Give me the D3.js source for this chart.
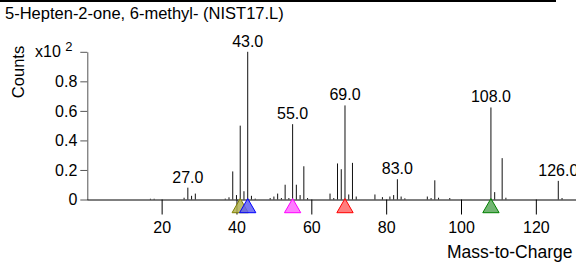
<!DOCTYPE html>
<html>
<head>
<meta charset="utf-8">
<script src="https://cdn.jsdelivr.net/npm/d3@7"></script>
<style>
  body { margin: 0; background: #fff; }
  svg { display: block; font-family: "Liberation Sans", Arial, sans-serif; }
</style>
</head>
<body>
<div id="view"></div>
<script>
// spectrum data (abundance in units of 10^2 counts)
const massValues = [17, 18, 26, 27, 28, 29, 37, 38, 39, 40, 41, 42, 43, 44, 45, 49, 50, 51, 52, 53, 54, 55, 56, 57, 58, 59,
    65, 66, 67, 68, 69, 70, 71, 72, 77, 79, 81, 82, 83, 84, 85, 91, 92, 93, 94, 97, 108, 109, 111, 112, 126, 127];
const abundance = [0.005, 0.005, 0.012, 0.08, 0.025, 0.04, 0.006, 0.015, 0.19, 0.03, 0.50, 0.056, 1.0, 0.025, 0.006, 0.01, 0.02, 0.04, 0.01, 0.10, 0.01, 0.51, 0.10, 0.03, 0.225, 0.01,
    0.04, 0.01, 0.244, 0.205, 0.637, 0.034, 0.248, 0.02, 0.034, 0.016, 0.02, 0.03, 0.137, 0.02, 0.008, 0.02, 0.01, 0.13, 0.012, 0.01, 0.623, 0.05, 0.28, 0.012, 0.126, 0.01];
const labelledPeaks = [27, 43, 55, 69, 83, 108, 126];
const markerMass = [41, 43, 55, 69, 108];
const markerStroke = ['#808000', '#0000ff', '#ff00ff', '#ff0000', '#008000'];
const markerFill = ['#b0b050', '#6060f0', '#ff66ff', '#ff6666', '#5aa85a'];
const xTicks = [20, 40, 60, 80, 100, 120];
const yTicks = [0, 0.2, 0.4, 0.6, 0.8, 1.0];

const width = 576, height = 263;

const svg = d3.select('#view')
    .append('svg')
        .attr('width', width)
        .attr('height', height);

const x = d3.scaleLinear().domain([0, 131.5]).range([86.8, 86.8 + 3.742 * 131.5]);
const y = d3.scaleLinear().domain([0, 1]).range([199.5, 51.8]);

// title and top rule
svg.append('line')
    .attr('x1', 0).attr('x2', 556)
    .attr('y1', 1).attr('y2', 1)
    .attr('stroke', '#000').attr('stroke-width', 2);
svg.append('text')
    .attr('x', 5).attr('y', 19)
    .attr('font-size', 16.5)
    .text('5-Hepten-2-one, 6-methyl- (NIST17.L)');

// Y axis
const yAxis = svg.append('g')
    .attr('transform', `translate(${x(0) + 0.5},0)`)
    .call(d3.axisLeft(y).tickValues(yTicks).tickSize(7).tickSizeOuter(0)
        .tickFormat(d => d === 1 ? '' : (d === 0 ? '0' : d3.format('.1f')(d))));
yAxis.select('.domain').attr('stroke', '#555');
yAxis.selectAll('.tick line').attr('stroke', '#555');
yAxis.selectAll('.tick text')
    .attr('font-size', 16)
    .attr('font-family', '"Liberation Sans", Arial, sans-serif')
    .attr('fill', '#000')
    .attr('x', -10);

const expLabel = svg.append('text')
    .attr('x', 35).attr('y', y(1) + 5)
    .attr('font-size', 16);
expLabel.append('tspan').text('x10 ');
expLabel.append('tspan').attr('dy', -6).attr('font-size', 13).text('2');

svg.append('text')
    .attr('transform', `translate(24,${72}) rotate(-90)`)
    .attr('text-anchor', 'middle')
    .attr('font-size', 16.5)
    .text('Counts');

// X axis
const xAxis = svg.append('g')
    .attr('transform', `translate(0,${y(0)})`)
    .call(d3.axisBottom(x).tickValues(xTicks).tickSize(15).tickSizeOuter(0));
xAxis.select('.domain').attr('stroke', '#000');
xAxis.selectAll('.tick text')
    .attr('font-size', 16)
    .attr('font-family', '"Liberation Sans", Arial, sans-serif')
    .attr('fill', '#000')
    .attr('y', 22);

svg.append('text')
    .attr('x', 447).attr('y', 258)
    .attr('font-size', 17.5)
    .text('Mass-to-Charge');

// spectrum sticks
const peaks = massValues.map((m, i) => ({m: m, v: abundance[i]}));
svg.append('g')
    .selectAll('line')
    .data(peaks)
    .join('line')
        .attr('x1', d => x(d.m)).attr('x2', d => x(d.m))
        .attr('y1', y(0)).attr('y2', d => y(d.v))
        .attr('stroke', '#111')
        .attr('stroke-width', 1);

// peak labels
svg.append('g')
    .selectAll('text')
    .data(peaks.filter(d => labelledPeaks.includes(d.m)))
    .join('text')
        .attr('x', d => x(d.m))
        .attr('y', d => y(d.v) - 5)
        .attr('text-anchor', 'middle')
        .attr('font-size', 16)
        .text(d => d3.format('.1f')(d.m));

// precursor / marker triangles
const tri = d3.symbol().type(d3.symbolTriangle).size(115);
svg.append('g')
    .selectAll('path')
    .data(markerMass)
    .join('path')
        .attr('transform', d => `translate(${x(d)},${y(0) + 8.5})`)
        .attr('d', tri)
        .attr('fill', (d, i) => markerFill[i])
        .attr('fill-opacity', 0.85)
        .attr('stroke', (d, i) => markerStroke[i])
        .attr('stroke-width', 1);
</script>
</body>
</html>
